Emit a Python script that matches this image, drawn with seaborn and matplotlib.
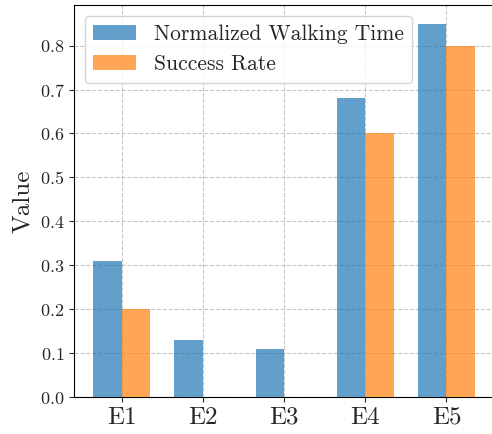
import matplotlib
matplotlib.use("Agg")
import matplotlib.pyplot as plt
import pandas as pd
import seaborn as sns

# data
experiments = ["E1", "E2", "E3", "E4", "E5"]
walking_time = [0.31, 0.13, 0.11, 0.68, 0.85]
success_rate = [0.20, 0.0, 0.0, 0.60, 0.80]
series_names = ["Normalized Walking Time", "Success Rate"]

df = pd.DataFrame({
    "Experiment": experiments * 2,
    "Value": walking_time + success_rate,
    "Metric": [series_names[0]] * len(experiments) + [series_names[1]] * len(experiments),
})

sns.set_style("ticks")
plt.rcParams["font.family"] = "serif"
plt.rcParams["font.serif"] = ["cmr10", "DejaVu Serif"]
plt.rcParams["mathtext.fontset"] = "cm"
plt.rcParams["axes.formatter.use_mathtext"] = True

fig = plt.figure(figsize=(4.92, 4.34), dpi=100)
ax = fig.add_axes([74 / 492, 1 - 397 / 434, 420 / 492, 392 / 434])

sns.barplot(data=df, x="Experiment", y="Value", hue="Metric",
            palette=["tab:blue", "tab:orange"], saturation=1, alpha=0.7,
            width=0.7, linewidth=0, ax=ax, zorder=3)

ax.set_xlim(-0.585, 4.585)
ax.set_ylim(0, 0.8925)
ax.grid(True, linestyle="--", color="#b0b0b0", linewidth=0.8, alpha=0.7, zorder=0)
ax.set_axisbelow(True)
for s in ax.spines.values():
    s.set_visible(True)
    s.set_color("black")

ax.set_xlabel("")
ax.set_ylabel("Value", fontsize=18)
ax.tick_params(axis="x", labelsize=18)
ax.tick_params(axis="y", labelsize=13)

handles, labels = ax.get_legend_handles_labels()
ax.legend(handles, labels, loc="upper left", fontsize=15.5, frameon=True, title=None)

fig.savefig("out.png", dpi=100)
